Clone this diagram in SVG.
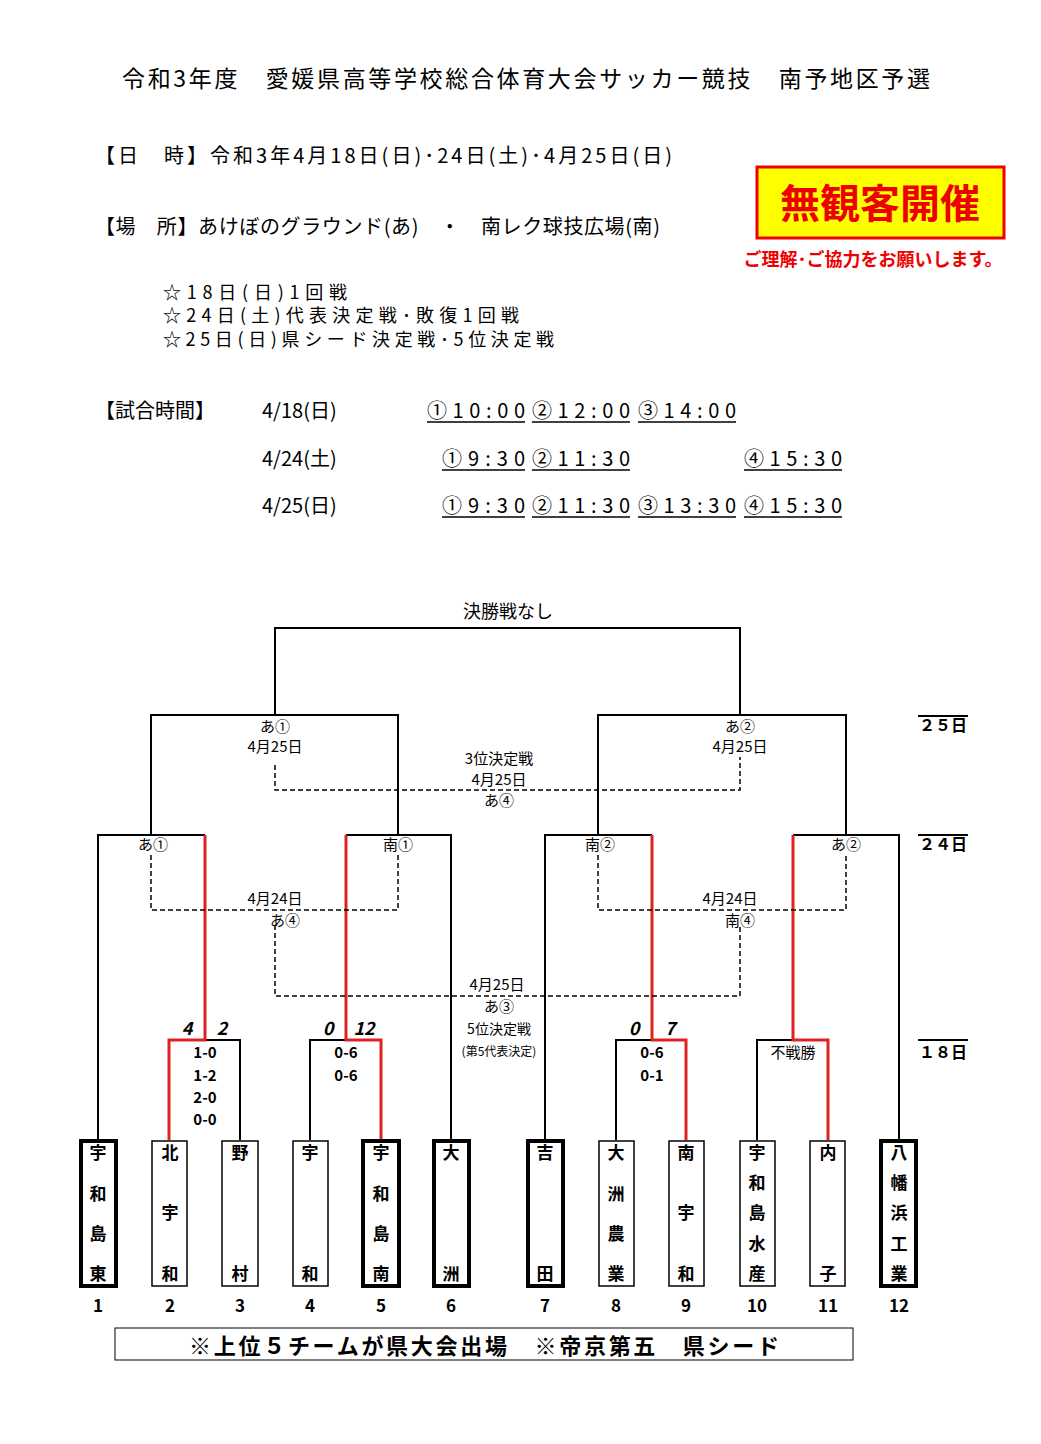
<svg xmlns="http://www.w3.org/2000/svg" width="1041" height="1444" viewBox="0 0 1041 1444">
<style>
text{font-family:"Noto Sans CJK JP","Noto Sans",sans-serif;fill:#000}
.h{font-size:20px}
.k{font-size:18px}
.s{font-size:15px}
.l{stroke:#000;stroke-width:2;fill:none}
.r{stroke:#d22;stroke-width:3;fill:none}
.d{stroke:#000;stroke-width:1.5;fill:none;stroke-dasharray:5,3}
.t{fill:#fff;stroke:#000;stroke-width:1.5}
.tb{fill:#fff;stroke:#000;stroke-width:4}
.n{font-size:17px;font-weight:bold;text-anchor:middle}
.u{stroke:#000;stroke-width:1.5}
</style>
<rect width="1041" height="1444" fill="#fff"/>
<g id="header">
<text x="122" y="87" font-size="23" textLength="808" lengthAdjust="spacing">令和3年度　愛媛県高等学校総合体育大会サッカー競技　南予地区予選</text>
<text x="95" y="163" class="h" textLength="577" lengthAdjust="spacing">【日　時】令和3年4月18日(日)･24日(土)･4月25日(日)</text>
<text x="95" y="234" class="h" textLength="565" lengthAdjust="spacing">【場　所】あけぼのグラウンド(あ)　・　南レク球技広場(南)</text>
<text x="163" y="299" class="k" textLength="184" lengthAdjust="spacing">☆18日(日)1回戦</text>
<text x="163" y="322" class="k" textLength="356" lengthAdjust="spacing">☆24日(土)代表決定戦･敗復1回戦</text>
<text x="163" y="346" class="k" textLength="391" lengthAdjust="spacing">☆25日(日)県シード決定戦･5位決定戦</text>
<text x="95" y="418" class="h">【試合時間】</text>
<text x="262" y="418" class="h">4/18(日)</text>
<text x="262" y="466" class="h">4/24(土)</text>
<text x="262" y="513" class="h">4/25(日)</text>
<g class="h">
<text x="427" y="418" textLength="98" lengthAdjust="spacing">①10:00</text>
<text x="532" y="418" textLength="98" lengthAdjust="spacing">②12:00</text>
<text x="638" y="418" textLength="98" lengthAdjust="spacing">③14:00</text>
<text x="442" y="466" textLength="83" lengthAdjust="spacing">①9:30</text>
<text x="532" y="466" textLength="98" lengthAdjust="spacing">②11:30</text>
<text x="744" y="466" textLength="98" lengthAdjust="spacing">④15:30</text>
<text x="442" y="513" textLength="83" lengthAdjust="spacing">①9:30</text>
<text x="532" y="513" textLength="98" lengthAdjust="spacing">②11:30</text>
<text x="638" y="513" textLength="98" lengthAdjust="spacing">③13:30</text>
<text x="744" y="513" textLength="98" lengthAdjust="spacing">④15:30</text>
</g>
<g class="u"><line x1="427" y1="422" x2="525" y2="422"/><line x1="532" y1="422" x2="630" y2="422"/><line x1="638" y1="422" x2="736" y2="422"/>
<line x1="442" y1="470" x2="525" y2="470"/><line x1="532" y1="470" x2="630" y2="470"/><line x1="744" y1="470" x2="842" y2="470"/>
<line x1="442" y1="517" x2="525" y2="517"/><line x1="532" y1="517" x2="630" y2="517"/><line x1="638" y1="517" x2="736" y2="517"/><line x1="744" y1="517" x2="842" y2="517"/></g>
</g>
<g id="notice">
<rect x="757" y="167" width="247" height="71" fill="#ff0" stroke="#e00" stroke-width="3"/>
<text x="880" y="218" font-size="40" text-anchor="middle" style="fill:#e00" font-weight="bold">無観客開催</text>
<text x="873" y="266" font-size="18" text-anchor="middle" style="fill:#e00" font-weight="bold">ご理解･ご協力をお願いします。</text>
</g>
<g id="connectors">
<polyline class="l" points="275,715 275,628 740,628 740,715"/>
<polyline class="l" points="151,835 151,715 398,715 398,835"/>
<polyline class="l" points="598,835 598,715 846,715 846,835"/>
<polyline class="l" points="98,1140 98,835 205,835"/>
<polyline class="l" points="346,835 451,835 451,1140"/>
<polyline class="l" points="545,1140 545,835 652,835"/>
<polyline class="l" points="793,835 899,835 899,1140"/>
<polyline class="l" points="205,1040 240,1040 240,1140"/>
<polyline class="l" points="346,1040 310,1040 310,1140"/>
<polyline class="l" points="652,1040 616,1040 616,1140"/>
<polyline class="l" points="793,1040 757,1040 757,1140"/>
<polyline class="r" points="169,1140 169,1040 205,1040 205,835"/>
<polyline class="r" points="346,835 346,1040 381,1040 381,1140"/>
<polyline class="r" points="652,835 652,1040 686,1040 686,1140"/>
<polyline class="r" points="793,835 793,1040 828,1040 828,1140"/>
<polyline class="d" points="275,765 275,790 740,790 740,757"/>
<polyline class="d" points="151,855 151,910 398,910 398,855"/>
<polyline class="d" points="598,855 598,910 846,910 846,855"/>
<polyline class="d" points="275,925 275,996 740,996 740,925"/>
<line class="l" x1="918" y1="716" x2="968" y2="716" stroke-width="1.5"/>
<line class="l" x1="918" y1="835" x2="968" y2="835" stroke-width="1.5"/>
<line class="l" x1="918" y1="1040" x2="968" y2="1040" stroke-width="1.5"/>
</g>
<g id="labels" class="s">
<text x="508" y="618" font-size="18" text-anchor="middle">決勝戦なし</text>
<text x="275" y="732" text-anchor="middle">あ①</text><text x="275" y="752" text-anchor="middle">4月25日</text>
<text x="740" y="732" text-anchor="middle">あ②</text><text x="740" y="752" text-anchor="middle">4月25日</text>
<text x="499" y="764" text-anchor="middle">3位決定戦</text><text x="499" y="785" text-anchor="middle">4月25日</text><text x="499" y="806" text-anchor="middle">あ④</text>
<text x="153" y="850" text-anchor="middle">あ①</text><text x="398" y="850" text-anchor="middle">南①</text>
<text x="600" y="850" text-anchor="middle">南②</text><text x="846" y="850" text-anchor="middle">あ②</text>
<text x="275" y="904" text-anchor="middle">4月24日</text><text x="285" y="926" text-anchor="middle">あ④</text>
<text x="730" y="904" text-anchor="middle">4月24日</text><text x="740" y="926" text-anchor="middle">南④</text>
<text x="497" y="990" text-anchor="middle">4月25日</text><text x="499" y="1012" text-anchor="middle">あ③</text>
<text x="499" y="1034" text-anchor="middle" font-size="14">5位決定戦</text>
<text x="499" y="1056" text-anchor="middle" font-size="12">(第5代表決定)</text>
<text x="943" y="731" font-size="16" font-weight="bold" text-anchor="middle">２５日</text>
<text x="943" y="850" font-size="16" font-weight="bold" text-anchor="middle">２４日</text>
<text x="943" y="1058" font-size="16" font-weight="bold" text-anchor="middle">１８日</text>
<g font-weight="bold" font-size="18" font-style="italic" text-anchor="middle">
<text x="187" y="1035">4</text><text x="222" y="1035">2</text>
<text x="328" y="1035">0</text><text x="364" y="1035">12</text>
<text x="634" y="1035">0</text><text x="670" y="1035">7</text></g>
<g font-weight="bold" text-anchor="middle">
<text x="205" y="1058">1-0</text><text x="205" y="1081">1-2</text><text x="205" y="1103">2-0</text><text x="205" y="1125">0-0</text>
<text x="346" y="1058">0-6</text><text x="346" y="1081">0-6</text>
<text x="652" y="1058">0-6</text><text x="652" y="1081">0-1</text></g>
<text x="793" y="1058" text-anchor="middle">不戦勝</text>
</g>
<g id="t1"><rect class="tb" x="81" y="1141" width="35" height="145"/><text class="n" x="98" y="1159">宇</text><text class="n" x="98" y="1200">和</text><text class="n" x="98" y="1240">島</text><text class="n" x="98" y="1280">東</text><text class="n" x="98" y="1312" font-size="14">1</text></g>
<g id="t2"><rect class="t" x="152" y="1141" width="35" height="145"/><text class="n" x="170" y="1159">北</text><text class="n" x="170" y="1219">宇</text><text class="n" x="170" y="1280">和</text><text class="n" x="170" y="1312" font-size="14">2</text></g>
<g id="t3"><rect class="t" x="222" y="1141" width="36" height="145"/><text class="n" x="240" y="1159">野</text><text class="n" x="240" y="1280">村</text><text class="n" x="240" y="1312" font-size="14">3</text></g>
<g id="t4"><rect class="t" x="293" y="1141" width="35" height="145"/><text class="n" x="310" y="1159">宇</text><text class="n" x="310" y="1280">和</text><text class="n" x="310" y="1312" font-size="14">4</text></g>
<g id="t5"><rect class="tb" x="363" y="1141" width="36" height="145"/><text class="n" x="381" y="1159">宇</text><text class="n" x="381" y="1200">和</text><text class="n" x="381" y="1240">島</text><text class="n" x="381" y="1280">南</text><text class="n" x="381" y="1312" font-size="14">5</text></g>
<g id="t6"><rect class="tb" x="434" y="1141" width="35" height="145"/><text class="n" x="451" y="1159">大</text><text class="n" x="451" y="1280">洲</text><text class="n" x="451" y="1312" font-size="14">6</text></g>
<g id="t7"><rect class="tb" x="528" y="1141" width="35" height="145"/><text class="n" x="545" y="1159">吉</text><text class="n" x="545" y="1280">田</text><text class="n" x="545" y="1312" font-size="14">7</text></g>
<g id="t8"><rect class="t" x="599" y="1141" width="35" height="145"/><text class="n" x="616" y="1159">大</text><text class="n" x="616" y="1200">洲</text><text class="n" x="616" y="1240">農</text><text class="n" x="616" y="1280">業</text><text class="n" x="616" y="1312" font-size="14">8</text></g>
<g id="t9"><rect class="t" x="669" y="1141" width="35" height="145"/><text class="n" x="686" y="1159">南</text><text class="n" x="686" y="1219">宇</text><text class="n" x="686" y="1280">和</text><text class="n" x="686" y="1312" font-size="14">9</text></g>
<g id="t10"><rect class="t" x="740" y="1141" width="35" height="145"/><text class="n" x="757" y="1159">宇</text><text class="n" x="757" y="1189">和</text><text class="n" x="757" y="1219">島</text><text class="n" x="757" y="1250">水</text><text class="n" x="757" y="1280">産</text><text class="n" x="757" y="1312" font-size="14">10</text></g>
<g id="t11"><rect class="t" x="810" y="1141" width="35" height="145"/><text class="n" x="828" y="1159">内</text><text class="n" x="828" y="1280">子</text><text class="n" x="828" y="1312" font-size="14">11</text></g>
<g id="t12"><rect class="tb" x="881" y="1141" width="35" height="145"/><text class="n" x="899" y="1159">八</text><text class="n" x="899" y="1189">幡</text><text class="n" x="899" y="1219">浜</text><text class="n" x="899" y="1250">工</text><text class="n" x="899" y="1280">業</text><text class="n" x="899" y="1312" font-size="14">12</text></g>
<g id="footer"><rect x="115" y="1328" width="738" height="32" fill="#fff" stroke="#000" stroke-width="1"/>
<text x="189" y="1354" font-size="22" font-weight="bold" textLength="590" lengthAdjust="spacing">※上位５チームが県大会出場　※帝京第五　県シード</text></g>
</svg>
